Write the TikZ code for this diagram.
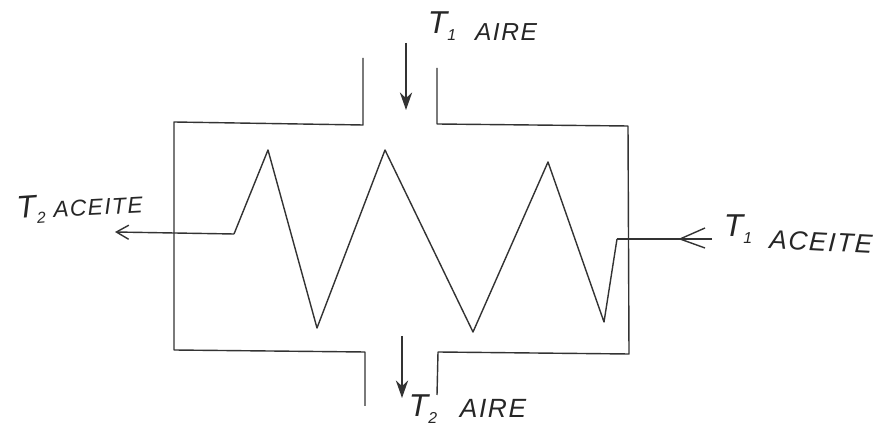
\documentclass[tikz,border=0pt]{standalone}
\usepackage{amsmath,amssymb}
\usepackage{fontspec}
\usepackage{tikz}
\usepackage{xcolor}
\usetikzlibrary{arrows.meta}

\newfontfamily\handfont[LetterSpace=6]{Liberation Sans}
\newcommand{\hsub}[1]{\raisebox{-4pt}{\fontsize{9}{9}\selectfont #1}}

\tikzset{
  sketchline/.style={line width=0.8pt,black!80,line join=round},
  bigt/.style={inner sep=0pt,black!85,font=\handfont\itshape\fontsize{18}{18}\selectfont},
  smalltag/.style={inner sep=0pt,black!85,font=\handfont\itshape\fontsize{#1}{#1}\selectfont},
}

\begin{document}
\begin{tikzpicture}
  \useasboundingbox (0,0) rectangle (17.64,8.52);
  % casing with the two air stubs
  \draw[sketchline] (7.26,7.36) -- (7.26,6.02) -- (3.48,6.08) -- (3.48,1.52) -- (7.30,1.48) -- (7.30,0.40);
  \draw[sketchline] (8.74,7.16) -- (8.74,6.04) -- (12.56,6.00) -- (12.58,1.44) -- (8.76,1.48) -- (8.74,0.62);
  % oil coil
  \draw[sketchline] (12.34,3.74) -- (12.08,2.08) -- (10.96,5.28) -- (9.46,1.88) -- (7.70,5.52) -- (6.34,1.96) -- (5.36,5.52) -- (4.68,3.84);
  \draw[sketchline,-{Straight Barb[length=7pt,width=8pt]}] (4.68,3.84) -- (2.30,3.88);
  \draw[sketchline] (14.24,3.74) -- (12.34,3.74);
  \draw[sketchline] (13.60,3.74) -- (14.10,3.96);
  \draw[sketchline] (13.60,3.74) -- (14.10,3.56);
  % air arrows
  \draw[sketchline,-{Stealth[length=10pt,width=7pt]}] (8.12,7.66) -- (8.12,6.32);
  \draw[sketchline,-{Stealth[length=10pt,width=7pt]}] (8.04,1.80) -- (8.04,0.56);
  % labels
  \node[bigt] (tairein) at (8.84,8.00) {T\hsub{1}};
  \node[smalltag=14] (airein) at (10.12,7.88) {AIRE};
  \node[bigt] (taireout) at (8.46,0.34) {T\hsub{2}};
  \node[smalltag=15] (aireout) at (9.86,0.36) {AIRE};
  \node[bigt,rotate=4] (toilout) at (0.62,4.32) {T\hsub{2}};
  \node[smalltag=13,rotate=3] (oilout) at (1.96,4.38) {ACEITE};
  \node[bigt] (toilin) at (14.76,3.94) {T\hsub{1}};
  \node[smalltag=15,rotate=-3] (oilin) at (16.42,3.68) {ACEITE};
\end{tikzpicture}
\end{document}
